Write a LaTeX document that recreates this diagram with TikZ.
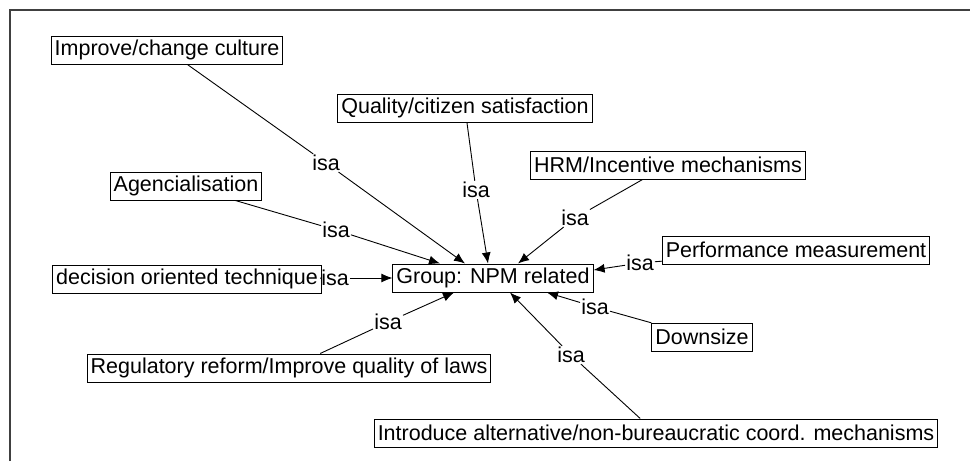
\documentclass[tikz,border=0pt]{standalone}
\usepackage{fontspec}
\setmainfont{Liberation Sans}
\usepackage{tikz}
\usetikzlibrary{arrows.meta}
\usetikzlibrary{positioning}

\begin{document}
\begin{tikzpicture}[x=1pt, y=-1pt, font=\fontsize{21.5}{24}\selectfont]

    \useasboundingbox (0,0) rectangle (970,461);

    % frame
    \draw[line width=1.5pt, color=black!75] (10,461) -- (10,10) -- (970,10);

    % concepts
    \begin{scope}[every node/.style={draw, line width=1pt, minimum height=28pt, inner xsep=3.5pt, inner ysep=0pt}]
        \node (culture) at (167,50) {Improve/change culture};
        \node (quality) at (465,108) {Quality/citizen satisfaction};
        \node (hrm) at (668,165) {HRM/Incentive mechanisms};
        \node (agency) at (186,186) {Agencialisation};
        \node (perform) at (796,250) {Performance measurement};
        \node (decision) at (187,279) {decision oriented technique};
        \node (npm) at (493,278) {Group: NPM related};
        \node (regul) at (289,368) {Regulatory reform/Improve quality of laws};
        \node (downsize) at (702,337) {Downsize};
        \node (introduce) at (656,433) {Introduce alternative/non-bureaucratic coord. mechanisms};
    \end{scope}

    % relations
    \begin{scope}[every node/.style={inner sep=1pt}]
        \node (isa1) at (326,163) {isa};
        \node (isa2) at (476,190) {isa};
        \node (isa3) at (575,218) {isa};
        \node (isa4) at (336,230) {isa};
        \node (isa5) at (335,278) {isa};
        \node (isa6) at (640,263) {isa};
        \node (isa7) at (388,322) {isa};
        \node (isa8) at (595,307) {isa};
        \node (isa9) at (571,355) {isa};
    \end{scope}

    % links
    \begin{scope}[every edge/.style={draw, line width=0.9pt}]
        \path (culture) edge (isa1);
        \path (quality) edge (isa2);
        \path (hrm) edge (isa3);
        \path (agency) edge (isa4);
        \path (decision) edge (isa5);
        \path (perform) edge (isa6);
        \path (regul) edge (isa7);
        \path (downsize) edge (isa8);
        \path (introduce) edge (isa9);

        \path[-{Latex[length=11pt, width=9pt]}] (isa1) edge ([xshift=-28pt]npm.north);
        \path[-{Latex[length=11pt, width=9pt]}] (isa2) edge ([xshift=-5pt]npm.north);
        \path[-{Latex[length=11pt, width=9pt]}] (isa3) edge ([xshift=25pt]npm.north);
        \path[-{Latex[length=11pt, width=9pt]}] (isa4) edge ([xshift=-53pt]npm.north);
        \path[-{Latex[length=11pt, width=9pt]}] (isa5) edge (npm.west);
        \path[-{Latex[length=11pt, width=9pt]}] (isa6) edge ([yshift=8pt]npm.east);
        \path[-{Latex[length=11pt, width=9pt]}] (isa7) edge ([xshift=-39pt]npm.south);
        \path[-{Latex[length=11pt, width=9pt]}] (isa8) edge ([xshift=54pt]npm.south);
        \path[-{Latex[length=11pt, width=9pt]}] (isa9) edge ([xshift=17pt]npm.south);
    \end{scope}

\end{tikzpicture}
\end{document}
